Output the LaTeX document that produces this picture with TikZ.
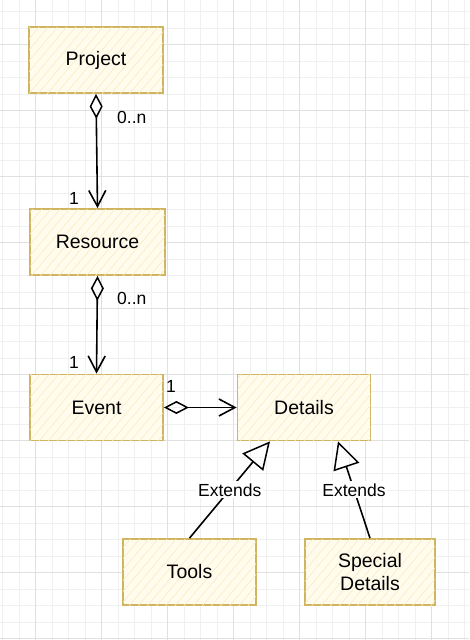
\documentclass[tikz,border=0pt]{standalone}
\usepackage{fontspec}
\setmainfont{Liberation Sans}
\usetikzlibrary{arrows.meta,patterns.meta}
\definecolor{gridminor}{RGB}{240,240,240}
\definecolor{gridmajor}{RGB}{224,224,224}
\definecolor{boxline}{RGB}{208,180,96}
\definecolor{boxfill}{RGB}{255,252,238}
\definecolor{hatch}{RGB}{248,236,192}
\tikzset{
  umlbox/.style={draw=boxline, line width=1.8pt, fill=boxfill,
    postaction={pattern={Lines[angle=50,distance=7pt,line width=0.6pt]}, pattern color=hatch},
    minimum width=133pt, minimum height=66pt, inner sep=0pt, align=center,
    font=\fontsize{19.5}{23}\selectfont},
  lbl/.style={font=\fontsize{17.5}{20}\selectfont, inner sep=1pt},
  assoc/.style={line width=1.6pt,
    {Diamond[open,length=25pt,width=13pt,line width=1.5pt]}-{Straight Barb[length=16pt,width=17pt,line width=1.6pt]}},
  extends/.style={line width=1.6pt, -{Triangle[open,length=27pt,width=27pt,line width=1.5pt]}},
}
\begin{document}
\begin{tikzpicture}[x=1pt,y=-1pt]
\useasboundingbox (0,0) rectangle (469,640);
\fill[white] (0,0) rectangle (469,640);
% grid
\foreach \i in {0,...,28} {
  \draw[gridminor, line width=0.6pt] ({2.7+16.5*\i},0) -- ({2.7+16.5*\i},640);
}
\foreach \i in {0,...,38} {
  \draw[gridminor, line width=0.6pt] (0,{11.3+16.5*\i}) -- (469,{11.3+16.5*\i});
}
\foreach \i in {0,...,6} {
  \draw[gridmajor, line width=0.7pt] ({35.7+66*\i},0) -- ({35.7+66*\i},640);
}
\foreach \i in {0,...,9} {
  \draw[gridmajor, line width=0.7pt] (0,{44.3+66*\i}) -- (469,{44.3+66*\i});
}
% nodes
\node[umlbox, minimum width=134pt] (project) at (96,60) {Project};
\node[umlbox, minimum width=135pt] (resource) at (97.5,242) {Resource};
\node[umlbox] (event) at (96.5,407.5) {Event};
\node[umlbox] (details) at (304,407.5) {Details};
\node[umlbox] (tools) at (189.5,572) {Tools};
\node[umlbox, minimum width=130pt] (special) at (370,572) {Special\\Details};
% associations
\draw[assoc] (project.south) -- (resource.north);
\draw[assoc] (resource.south) -- (event.north);
\draw[assoc] (event.east) -- (details.west);
% multiplicities
\node[lbl, anchor=west] (m1) at (116,117) {0..n};
\node[lbl] (m2) at (74,198) {1};
\node[lbl, anchor=west] (m3) at (116,298) {0..n};
\node[lbl] (m4) at (74,362) {1};
\node[lbl] (m5) at (171,386) {1};
% generalizations
\draw[extends] (tools.north) -- ([xshift=-34pt]details.south)
  node[pos=0.5, lbl, fill=white, inner sep=2pt] (e1) {Extends};
\draw[extends] (special.north) -- ([xshift=34pt]details.south)
  node[pos=0.5, lbl, fill=white, inner sep=2pt] (e2) {Extends};
\end{tikzpicture}
\end{document}
